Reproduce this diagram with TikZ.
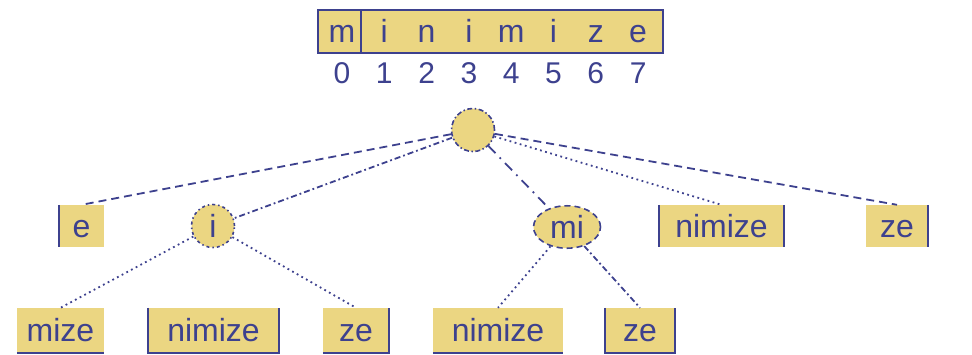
\documentclass[tikz,border=0pt]{standalone}
\usepackage{fontspec}
\setmainfont{Liberation Sans}
\usetikzlibrary{shapes.geometric}
\definecolor{boxfill}{HTML}{EBD682}
\definecolor{ink}{HTML}{3D418E}
\begin{document}
\begin{tikzpicture}[x=1pt,y=-1pt,
  lab/.style={text=ink,font=\fontsize{32}{32}\selectfont,inner sep=0pt,text height=26pt,text depth=4pt},
  digit/.style={lab,font=\fontsize{30}{30}\selectfont},
  box/.style={lab,fill=boxfill,minimum height=42pt},
  lowbox/.style={lab,fill=boxfill,minimum height=45pt},
  bl/.style={draw=ink,line width=2pt},
  con/.style={draw=ink,line width=1.8pt},
  dashline/.style={con,dash pattern=on 8pt off 5pt},
  dashdotline/.style={con,dash pattern=on 6pt off 3pt on 1.8pt off 3pt},
  loosedashdot/.style={con,dash pattern=on 10pt off 6pt on 1.8pt off 6pt},
  dotline/.style={con,dash pattern=on 1.8pt off 3.5pt},
  roundnode/.style={lab,fill=boxfill,circle,minimum size=43pt,draw=ink,line width=1.6pt}
]
\useasboundingbox (0,0) rectangle (972,354);

% top array
\node[box,minimum width=345pt,minimum height=43pt] (arr) at (490.5,31.5) {};
\draw[bl] (arr.north west) rectangle (arr.south east);
\draw[bl] (361,10) -- (361,53);
\foreach \c [count=\k from 0] in {m,i,n,i,m,i,z,e}
  \node[lab] (l\k) at (342+42.3*\k,31.5) {\c};
\foreach \k in {0,...,7}
  \node[digit] (d\k) at (342+42.3*\k,72) {\k};

% root
\node[roundnode,dash pattern=on 5pt off 2.5pt on 1.5pt off 2.5pt] (root) at (473,130) {};

% second row
\node[box,minimum width=45pt] (e) at (81.5,226) {e};
\node[roundnode,dash pattern=on 3pt off 3pt on 1.5pt off 3pt] (i) at (213,226) {i};
\node[roundnode,ellipse,minimum width=67pt,minimum height=42pt,dash pattern=on 6pt off 4pt] (mi) at (567,227) {mi};
\node[box,minimum width=125pt] (nim) at (721.5,226) {nimize};
\node[box,minimum width=62pt] (ze) at (897,226) {ze};
\draw[bl] (e.north west) -- (e.south west);
\draw[bl] (nim.north west) -- (nim.south west);
\draw[bl] (nim.north east) -- (nim.south east);
\draw[bl] (ze.north east) -- (ze.south east);

% third row
\node[lowbox,minimum width=87pt] (mize) at (60.5,330.5) {mize};
\node[lowbox,minimum width=131pt] (nimL) at (213.5,330.5) {nimize};
\node[lowbox,minimum width=66pt] (zeL) at (356,330.5) {ze};
\node[lowbox,minimum width=130pt] (nimR) at (498,330.5) {nimize};
\node[lowbox,minimum width=70pt] (zeR) at (640,330.5) {ze};
\draw[bl] (mize.south west) -- (mize.south east);
\draw[bl] (nimL.north west) -- (nimL.south west) -- (nimL.south east) -- (nimL.north east);
\draw[bl] (zeL.south west) -- (zeL.south east) -- (zeL.north east);
\draw[bl] (nimR.south west) -- (nimR.south east);
\draw[bl] (zeR.north west) -- (zeR.south west) -- (zeR.south east) -- (zeR.north east);

% connectors
\draw[dashline] (root) -- (e.north);
\draw[dashdotline] (root) -- (i);
\draw[loosedashdot] (root) -- (mi);
\draw[dotline] (root) -- (nim.north);
\draw[dashline] (root) -- (ze.north);
\draw[dotline] (i) -- (mize.north);
\draw[dotline] (i) -- (zeL.north);
\draw[dotline] (mi) -- (nimR.north);
\draw[dashdotline] (mi) -- (zeR.north);
\end{tikzpicture}
\end{document}
